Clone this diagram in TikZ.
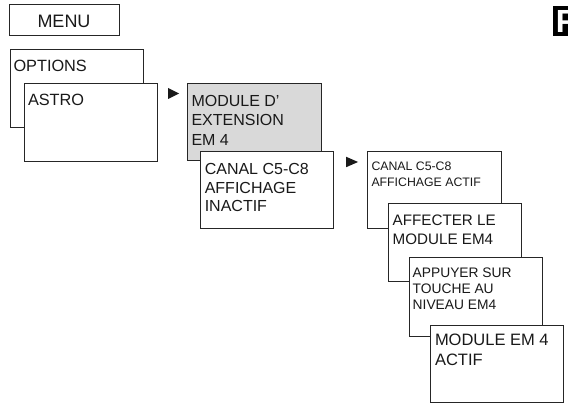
\documentclass[tikz,border=0pt]{standalone}
\usepackage{fontspec}
\setmainfont{Liberation Sans}
\usetikzlibrary{shapes.geometric}
\tikzset{
  box/.style={draw=black!85, line width=1pt, fill=white, rectangle, inner sep=0, outer sep=0, anchor=north west},
  graybox/.style={box, fill=black!15},
  txt/.style={inner sep=0, outer sep=0, anchor=north west, align=left, text=black!90},
  tri/.style={isosceles triangle, isosceles triangle stretches, fill=black!90, inner sep=0, minimum width=11pt, minimum height=11pt}
}
\begin{document}
\begin{tikzpicture}[x=1pt,y=-1pt]
\useasboundingbox (0,0) rectangle (568,406);
\clip (0,0) rectangle (568,406);
% MENU
\node[box, minimum width=110, minimum height=31] (bMenu) at (9,5) {};
\node[inner sep=0, text=black!90, font=\fontsize{18}{22}\selectfont] (tMenu) at ([yshift=-1]bMenu.center) {MENU};
% OPTIONS / ASTRO
\node[box, minimum width=133, minimum height=78] (bOpt) at (10,50) {};
\node[txt, font=\fontsize{16.3}{20}\selectfont] (tOpt) at ([shift={(3.5,10)}]bOpt.north west) {OPTIONS};
\node[box, minimum width=133, minimum height=78] (bAstro) at (24,84) {};
\node[txt, font=\fontsize{16.3}{20}\selectfont] (tAstro) at ([shift={(4,10)}]bAstro.north west) {ASTRO};
\node[tri] (t1) at (171.5,93.5) {};
% MODULE D'EXTENSION
\node[graybox, minimum width=134, minimum height=77] (bMod) at (187,84) {};
\node[txt, font=\fontsize{16}{19.8}\selectfont] (tMod) at ([shift={(4.5,11)}]bMod.north west) {MODULE D'\\EXTENSION\\EM 4};
\node[box, minimum width=133, minimum height=77] (bInact) at (200,152) {};
\node[txt, font=\fontsize{16}{18.7}\selectfont] (tInact) at ([shift={(4.8,11.3)}]bInact.north west) {CANAL C5-C8\\AFFICHAGE\\INACTIF};
\node[tri, minimum height=12pt, minimum width=10.5pt] (t2) at (349.5,162) {};
% right column
\node[box, minimum width=134, minimum height=77] (bAct) at (367,152) {};
\node[txt, font=\fontsize{12.3}{16}\selectfont] (tAct) at ([shift={(4.5,10.3)}]bAct.north west) {CANAL C5-C8\\AFFICHAGE ACTIF};
\node[box, minimum width=133, minimum height=78] (bAff) at (388,204) {};
\node[txt, font=\fontsize{15.2}{19}\selectfont] (tAff) at ([shift={(4.7,11)}]bAff.north west) {AFFECTER LE\\MODULE EM4};
\node[box, minimum width=133, minimum height=78] (bApp) at (409,258) {};
\node[txt, font=\fontsize{13.8}{16}\selectfont] (tApp) at ([shift={(3.7,10.3)}]bApp.north west) {APPUYER SUR\\TOUCHE AU\\NIVEAU EM4};
\node[box, minimum width=133, minimum height=77] (bFin) at (430,325) {};
\node[txt, font=\fontsize{16.5}{20}\selectfont] (tFin) at ([shift={(5,9.3)}]bFin.north west) {MODULE EM 4\\ACTIF};
% language tag
\node[fill=black, inner sep=0, outer sep=0, anchor=north west, minimum width=30, minimum height=30] (bLang) at (553,6) {};
\node[inner sep=0, outer sep=0, anchor=base west, text=white, font=\bfseries\fontsize{32}{32}\selectfont] (tLang) at (555.8,33) {FR};
\end{tikzpicture}
\end{document}
